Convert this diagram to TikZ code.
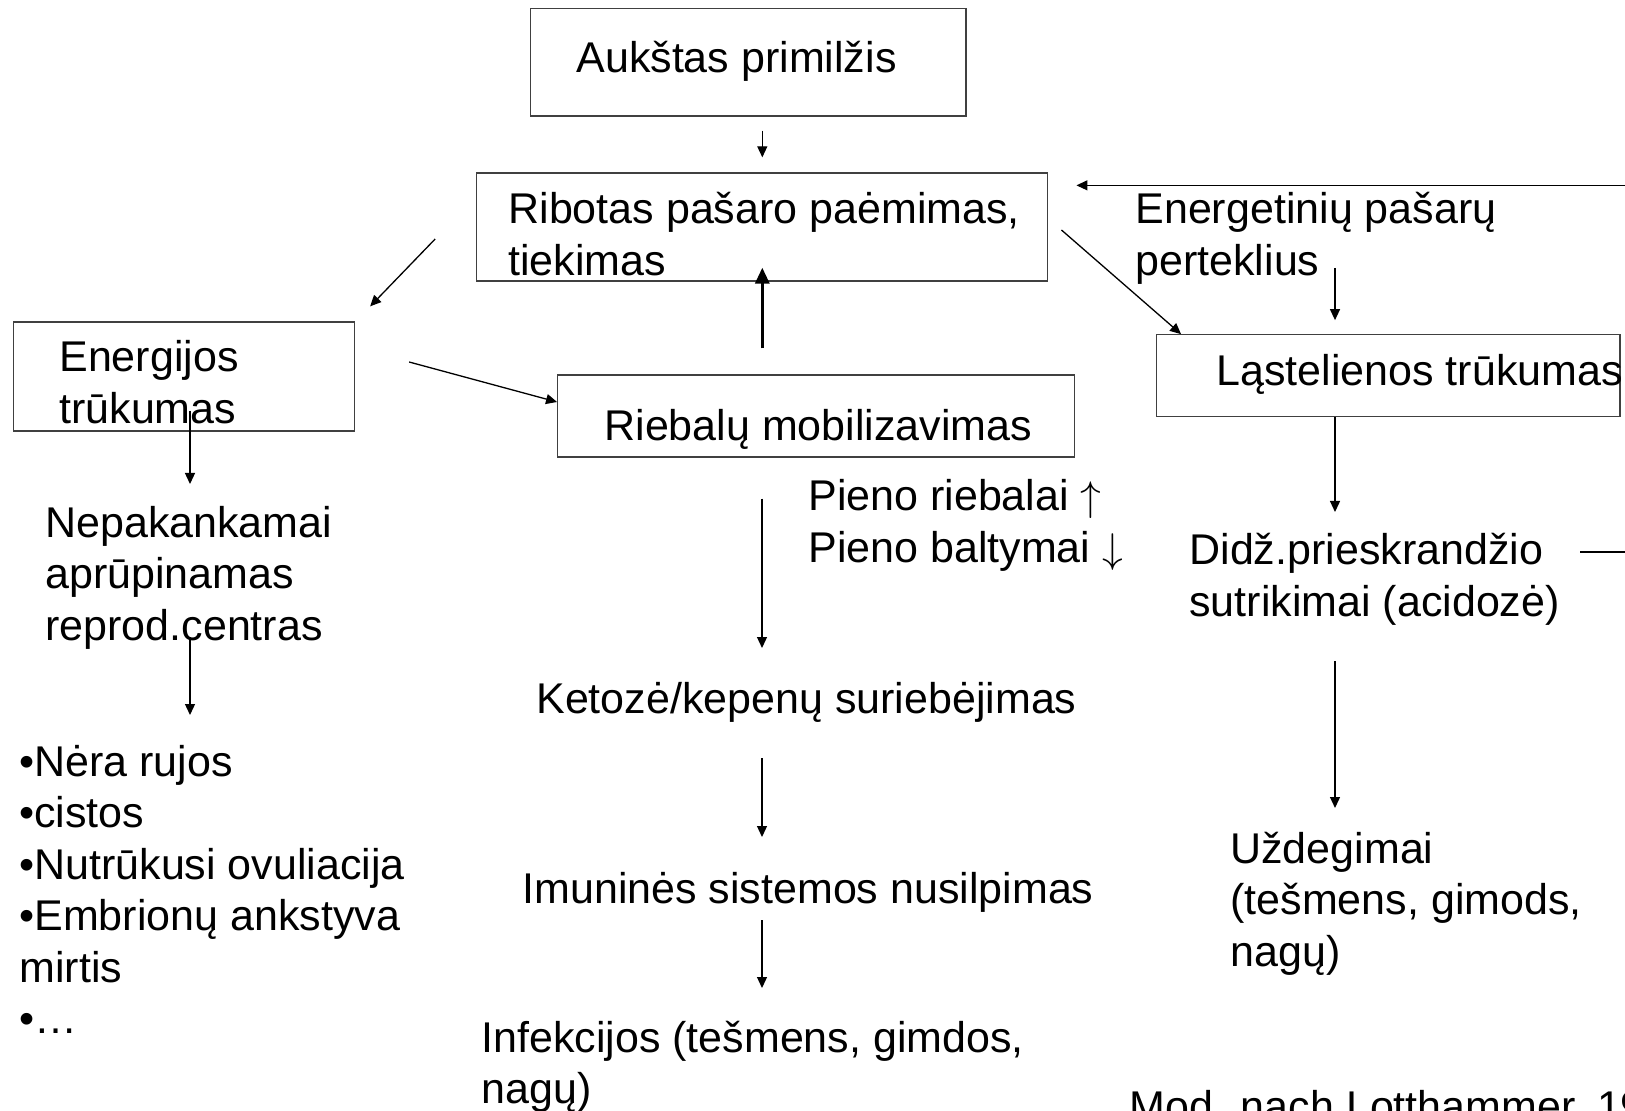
\documentclass[tikz,border=0pt]{standalone}
\usepackage{fontspec}
\setmainfont{Liberation Sans}
\usetikzlibrary{arrows.meta, positioning, calc}
\newcommand{\chartfont}{\fontsize{21.5}{25.75}\selectfont}

\begin{document}
\begin{tikzpicture}[
    x=0.5pt, y=-0.5pt,
    box/.style={rectangle, draw=black!75, line width=0.65pt, inner sep=0pt},
    txt/.style={anchor=base west, inner sep=0pt, align=left, font=\chartfont},
    arrow/.style={line width=0.65pt, -{Triangle[length=5.5pt, width=5pt]}},
    fat/.style={line width=1.6pt, -{Triangle[length=8pt, width=7pt]}}
]
    \useasboundingbox (0,0) rectangle (1625,1111);
    \fill[white] (0,0) rectangle (1625,1111);
    \clip (0,0) rectangle (1625,1111);

    % boxes
    \node[box, minimum width=217.6pt, minimum height=53.9pt] (prim) at (748.3,62.2) {};
    \node[box, minimum width=285.5pt, minimum height=54pt] (rib) at (762.3,227) {};
    \node[box, minimum width=170.5pt, minimum height=54.5pt] (eng) at (184,376.5) {};
    \node[box, minimum width=258.5pt, minimum height=41pt] (mob) at (816.2,416) {};
    \node[box, minimum width=231.6pt, minimum height=40.9pt] (las) at (1388.3,375.7) {};

    % texts (base = last line)
    \node[txt] (primT) at (576,72.5) {Aukštas primilžis};
    \node[txt] (ribT) at (508,275.5) {Ribotas pašaro paėmimas,\\tiekimas};
    \node[txt] (eneT) at (1135,275.5) {Energetinių pašarų\\perteklius};
    \node[txt] (engT) at (59,423.5) {Energijos\\trūkumas};
    \node[txt] (mobT) at (604,440.5) {Riebalų mobilizavimas};
    \node[txt] (lasT) at (1216,385.5) {Ląstelienos trūkumas};
    \node[txt] (pien) at (808,562.5) {Pieno riebalai $\uparrow$\\Pieno baltymai $\downarrow$};
    \node[txt] (acid) at (1189,616.5) {Didž.prieskrandžio\\sutrikimai (acidozė)};
    \node[txt] (nep) at (45,640) {Nepakankamai\\aprūpinamas\\reprod.centras};
    \node[txt] (ket) at (536,713) {Ketozė/kepenų suriebėjimas};
    \node[txt] (sym) at (19,1033.5) {•Nėra rujos\\•cistos\\•Nutrūkusi ovuliacija\\•Embrionų ankstyva\\mirtis\\•…};
    \node[txt] (uzd) at (1230,966) {Uždegimai\\(tešmens, gimods,\\nagų)};
    \node[txt] (imu) at (522,903) {Imuninės sistemos nusilpimas};
    \node[txt] (inf) at (481,1103.5) {Infekcijos (tešmens, gimdos,\\nagų)};
    \node[txt] (src) at (1129,1121) {Mod. nach Lotthammer, 19};

    \coordinate (colL) at (190,0);
    \coordinate (colM) at (762,0);
    \coordinate (colR) at (1335,0);
    \coordinate (acidOut) at (1580,552);

    % connectors
    \draw[arrow] ($(prim.south -| rib.north)+(0,14)$) -- ($(rib.north)+(0,-15)$);
    \draw[fat] ($(mob.north -| rib.south)+(0,-26)$) -- ($(rib.south)+(0,-14)$);
    \draw[arrow] ($(rib.west)+(-41,12)$) -- ($(eng.north east)+(15,-15)$);
    \draw[arrow] ($(eng.east)+(54,-14.5)$) -- ($(mob.west)+(0,-14)$);
    \draw[arrow] ($(rib.east)+(13,3)$) -- ($(las.north west)+(25,0)$);
    \draw[arrow] (acidOut) -- ++(60,0) |- ($(rib.north east)+(28,13)$);
    \draw[arrow] ($(eneT.base -| colR)+(0,-7.5)$) -- ($(las.north -| colR)+(0,-14)$);
    \draw[arrow] ($(eng.south -| colL)+(0,-21)$) -- ($(nep.base -| colL)+(0,-156)$);
    \draw[arrow] ($(nep.base -| colL)+(0,-3)$) -- ($(sym.base -| colL)+(0,-318.5)$);
    \draw[arrow] ($(mob.south -| colM)+(0,41)$) -- ($(ket.base -| colM)+(0,-65)$);
    \draw[arrow] ($(ket.base -| colM)+(0,45)$) -- ($(imu.base -| colM)+(0,-66)$);
    \draw[arrow] ($(imu.base -| colM)+(0,17)$) -- ($(inf.base -| colM)+(0,-115.5)$);
    \draw[arrow] (las.south -| colR) -- ($(acid.base -| colR)+(0,-104.5)$);
    \draw[arrow] ($(acid.base -| colR)+(0,44.5)$) -- ($(uzd.base -| colR)+(0,-158)$);
\end{tikzpicture}
\end{document}
